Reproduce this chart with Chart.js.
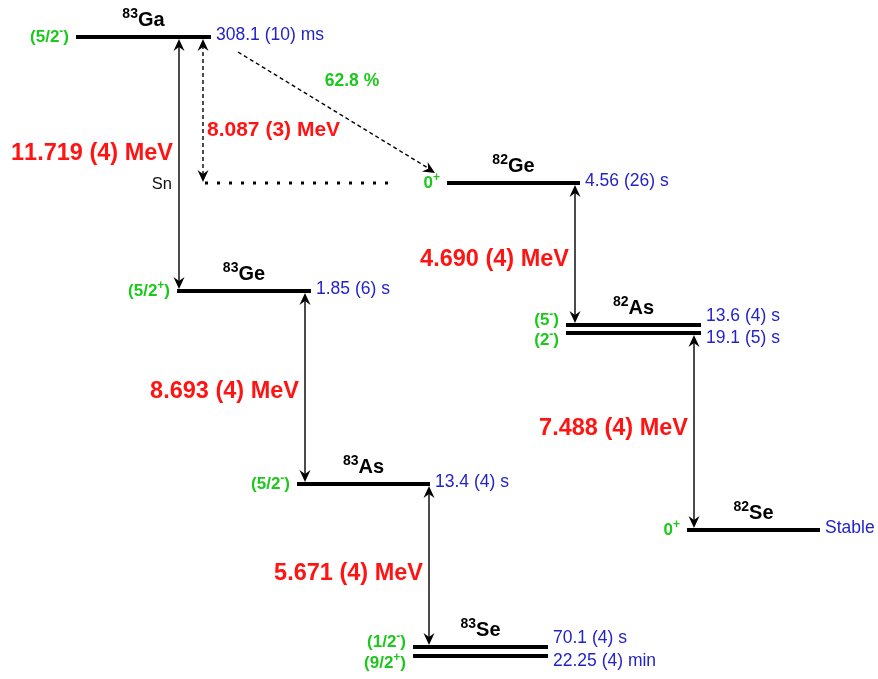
<!DOCTYPE html>
<html>
<head>
<meta charset="utf-8">
<script src="https://cdn.jsdelivr.net/npm/chart.js@4.4.1/dist/chart.umd.min.js"></script>
<style>
  html, body { margin: 0; padding: 0; background: #fff; }
  #wrap { width: 878px; height: 679px; position: relative; }
</style>
</head>
<body>
<div id="wrap"><canvas id="scheme"></canvas></div>
<script>
// Drawing units: x runs left to right, y runs top to bottom (level height on the page)

// Nuclides (one block of levels each)
const nuclideMass = ['83', '83', '83', '83', '82', '82', '82'];
const nuclideSymbol = ['Ga', 'Ge', 'As', 'Se', 'Ge', 'As', 'Se'];
const nuclideLeft = [76, 177, 297, 413, 447, 566, 687];
const nuclideRight = [211, 311, 430, 548, 580, 701, 820];

// Levels
const levelNuclide = [0, 1, 2, 3, 3, 4, 5, 5, 6];
const levelY = [37, 291, 484, 647, 656, 183, 325, 333, 530];
const levelSpin = ['(5/2^-)', '(5/2^+)', '(5/2^-)', '(1/2^-)', '(9/2^+)', '0^+', '(5^-)', '(2^-)', '0^+'];
const levelHalfLife = ['308.1 (10) ms', '1.85 (6) s', '13.4 (4) s', '70.1 (4) s', '22.25 (4) min',
  '4.56 (26) s', '13.6 (4) s', '19.1 (5) s', 'Stable'];

// Beta decays (level index from -> to)
const decayFrom = [0, 1, 2, 5, 7];
const decayTo = [1, 2, 3, 6, 8];
const decayX = [179, 305, 429, 575, 694];
const decayQ = ['11.719 (4) MeV', '8.693 (4) MeV', '5.671 (4) MeV', '4.690 (4) MeV', '7.488 (4) MeV'];
const decayLabelY = [152, 390, 572, 258, 427];

// Beta-delayed neutron branch
const snY = 183;
const snX = 203;
const snLine = [205, 392];
const snQ = '8.087 (3) MeV';
const branchStart = [238, 52];
const branchEnd = [435, 173];
const branchRatio = '62.8 %';

const GREEN = '#1cc81c';
const BLUE = '#2323c8';
const RED = '#ff1414';
const FONT = '"Liberation Sans", Arial, sans-serif';

// Build datasets
const datasets = [];
levelY.forEach((y, i) => {
  const n = levelNuclide[i];
  datasets.push({
    data: [{ x: nuclideLeft[n], y }, { x: nuclideRight[n], y }],
    borderColor: '#000', borderWidth: 4, borderCapStyle: 'butt'
  });
});
decayX.forEach((x, i) => {
  datasets.push({
    data: [{ x, y: levelY[decayFrom[i]] + 8 }, { x, y: levelY[decayTo[i]] - 8 }],
    borderColor: '#000', borderWidth: 1.4
  });
});
datasets.push({
  data: [{ x: snX, y: levelY[0] + 8 }, { x: snX, y: snY - 8 }],
  borderColor: '#000', borderWidth: 1.4, borderDash: [4, 3]
});
datasets.push({
  data: [{ x: snLine[0], y: snY }, { x: snLine[1], y: snY }],
  borderColor: '#000', borderWidth: 3, borderDash: [3, 9]
});
datasets.push({
  data: [{ x: branchStart[0], y: branchStart[1] }, { x: branchEnd[0] - 7, y: branchEnd[1] - 5 }],
  borderColor: '#000', borderWidth: 1.4, borderDash: [4, 3]
});

// Text with "^" marking one superscript character
function drawRich(ctx, str, x, midY, align, size, weight, color) {
  const parts = [];
  for (let i = 0; i < str.length; i++) {
    if (str[i] === '^' && i + 1 < str.length) { parts.push([str[i + 1], true]); i++; }
    else parts.push([str[i], false]);
  }
  const supSize = Math.round(size * 0.72);
  let total = 0;
  parts.forEach(p => {
    ctx.font = `${weight} ${p[1] ? supSize : size}px ${FONT}`;
    p.push(ctx.measureText(p[0]).width);
    total += p[2];
  });
  let cx = align === 'right' ? x - total : align === 'center' ? x - total / 2 : x;
  const base = midY + size * 0.36;
  ctx.fillStyle = color;
  ctx.textAlign = 'left';
  ctx.textBaseline = 'alphabetic';
  parts.forEach(p => {
    ctx.font = `${weight} ${p[1] ? supSize : size}px ${FONT}`;
    ctx.fillText(p[0], cx, p[1] ? base - size * 0.42 : base);
    cx += p[2];
  });
}

function arrowHead(ctx, tx, ty, angle) {
  const len = 12, half = 5.5, notch = 4;
  ctx.save();
  ctx.translate(tx, ty);
  ctx.rotate(angle);
  ctx.beginPath();
  ctx.moveTo(0, 0);
  ctx.lineTo(-len, -half);
  ctx.lineTo(-len + notch, 0);
  ctx.lineTo(-len, half);
  ctx.closePath();
  ctx.fillStyle = '#000';
  ctx.fill();
  ctx.restore();
}

const schemeLabels = {
  id: 'schemeLabels',
  afterDatasetsDraw(chart) {
    const ctx = chart.ctx;
    const sx = v => chart.scales.x.getPixelForValue(v);
    const sy = v => chart.scales.y.getPixelForValue(v);

    // arrow heads
    decayX.forEach((x, i) => {
      arrowHead(ctx, sx(x), sy(levelY[decayFrom[i]]) + 2, -Math.PI / 2);
      arrowHead(ctx, sx(x), sy(levelY[decayTo[i]]) - 2, Math.PI / 2);
    });
    arrowHead(ctx, sx(snX), sy(levelY[0]) + 2, -Math.PI / 2);
    arrowHead(ctx, sx(snX), sy(snY) - 1, Math.PI / 2);
    const ang = Math.atan2(sy(branchEnd[1]) - sy(branchStart[1]), sx(branchEnd[0]) - sx(branchStart[0]));
    arrowHead(ctx, sx(branchEnd[0]), sy(branchEnd[1]), ang);

    // nuclide names
    nuclideSymbol.forEach((sym, n) => {
      const lv = levelNuclide.indexOf(n);
      const cx = sx((nuclideLeft[n] + nuclideRight[n]) / 2);
      const base = sy(levelY[lv]) - 11;
      ctx.font = `bold 20px ${FONT}`;
      const ws = ctx.measureText(sym).width;
      ctx.font = `bold 14px ${FONT}`;
      const wm = ctx.measureText(nuclideMass[n]).width;
      const x0 = cx - (ws + wm) / 2;
      ctx.fillStyle = '#000';
      ctx.textAlign = 'left';
      ctx.textBaseline = 'alphabetic';
      ctx.fillText(nuclideMass[n], x0, base - 8);
      ctx.font = `bold 20px ${FONT}`;
      ctx.fillText(sym, x0 + wm, base);
    });

    // spins and half-lives
    levelY.forEach((y, i) => {
      const n = levelNuclide[i];
      const pair = levelNuclide.filter(v => v === n).length > 1;
      const upper = pair && levelNuclide.indexOf(n) === i;
      const spinOff = pair ? (upper ? -6 : 6) : -1;
      const hlOff = pair ? (upper ? -10 : 4) : -3;
      drawRich(ctx, levelSpin[i], sx(nuclideLeft[n]) - 7, sy(y) + spinOff, 'right', 17, 'bold', GREEN);
      drawRich(ctx, levelHalfLife[i], sx(nuclideRight[n]) + 5, sy(y) + hlOff, 'left', 17.5, 'normal', BLUE);
    });

    // Q values
    decayQ.forEach((q, i) => {
      drawRich(ctx, q, sx(decayX[i]) - 6, sy(decayLabelY[i]), 'right', 23.5, 'bold', RED);
    });
    drawRich(ctx, snQ, sx(snX) + 4, sy(128), 'left', 21, 'bold', RED);
    drawRich(ctx, 'Sn', sx(snX) - 31, sy(snY), 'right', 16.5, 'normal', '#111');
    drawRich(ctx, branchRatio, sx(352), sy(80), 'center', 17.5, 'bold', GREEN);
  }
};

new Chart(document.getElementById('scheme'), {
  type: 'scatter',
  data: { datasets },
  options: {
    responsive: true,
    maintainAspectRatio: false,
    animation: false,
    showLine: true,
    layout: { padding: 0 },
    elements: { point: { radius: 0, hoverRadius: 0 }, line: { tension: 0 } },
    scales: {
      x: { type: 'linear', min: 0, max: 878, display: false },
      y: { type: 'linear', min: 0, max: 679, reverse: true, display: false }
    },
    plugins: { legend: { display: false }, tooltip: { enabled: false } }
  },
  plugins: [schemeLabels]
});
</script>
</body>
</html>
